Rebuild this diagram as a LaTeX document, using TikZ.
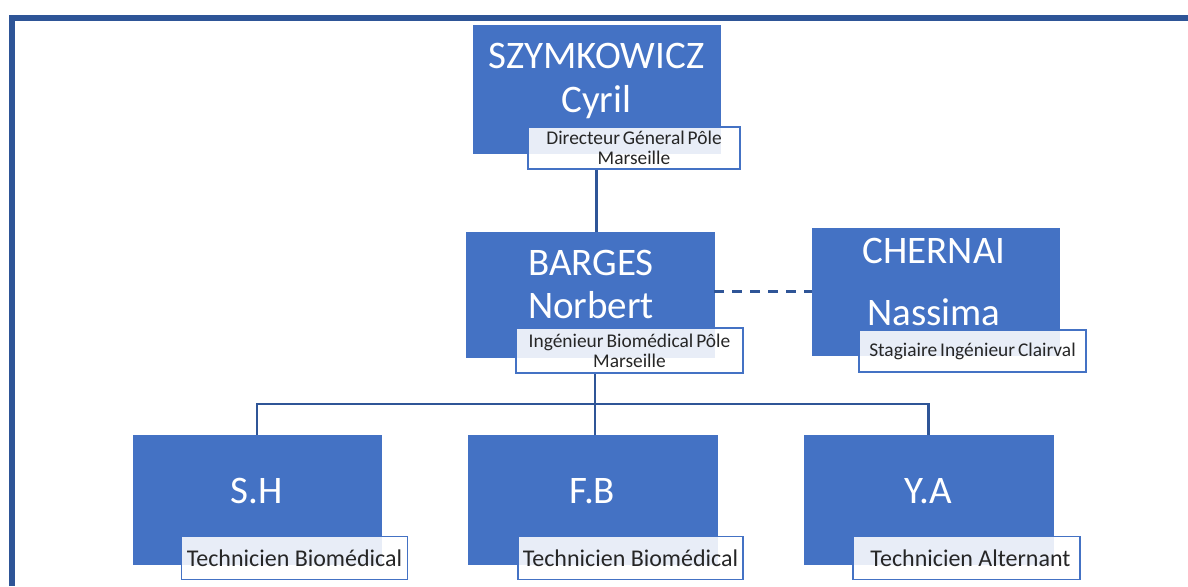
\documentclass[tikz,border=0pt]{standalone}
\usepackage{fontspec}
\setmainfont{Carlito}
\definecolor{boxblue}{HTML}{4472C4}
\definecolor{linedark}{HTML}{2F5597}
\definecolor{framecol}{HTML}{2E5597}
\definecolor{labeltext}{HTML}{262626}
\newcommand\mytightspaces{\spaceskip=0.15em plus 0.05em\relax}
\tikzset{
  namebox/.style={draw=boxblue, line width=0.8pt, fill=boxblue, inner sep=0pt, minimum width=247pt, minimum height=127pt},
  nametext/.style={text=white, font=\fontsize{39}{43}\selectfont, anchor=base, inner sep=0pt},
  rolebox/.style={draw=boxblue, line width=1.5pt, fill=white, fill opacity=0.88, text opacity=1, text=labeltext, inner sep=0pt, minimum width=226pt, minimum height=43pt, align=center},
  rolesmall/.style={font=\fontsize{19.4}{20}\selectfont},
  rolebig/.style={font=\fontsize{24}{26}\selectfont},
  conn/.style={draw=linedark, line width=2.2pt},
  dashconn/.style={draw=linedark, line width=2.2pt, dash pattern=on 10pt off 8pt},
}
\begin{document}
\begin{tikzpicture}[x=1pt,y=-1pt]
\useasboundingbox (0,0) rectangle (1188,586);
% frame
\draw[framecol, line width=6pt] (12,586) -- (12,18.5) -- (1188,18.5);
% boxes
\node[namebox, minimum width=247pt, minimum height=128pt] (szy) at (596.5,89) {};
\node[namebox, minimum width=248pt, minimum height=125pt] (bar) at (590,294.5) {};
\node[namebox, minimum width=247pt, minimum height=127pt] (che) at (935.5,291.5) {};
\node[namebox, minimum width=248pt, minimum height=129pt] (sh) at (257,499.5) {};
\node[namebox, minimum width=249pt, minimum height=129pt] (fb) at (592.5,499.5) {};
\node[namebox, minimum width=249pt, minimum height=129pt] (ya) at (928.5,499.5) {};
% names
\node[nametext] (szyA) at (596.5,69) {SZYMKOWICZ};
\node[nametext] (szyB) at (596.5,112) {Cyril};
\node[nametext] (barA) at (591,275) {BARGES};
\node[nametext] (barB) at (591,318) {Norbert};
\node[nametext] (cheA) at (934,263) {CHERNAI};
\node[nametext] (cheB) at (934,325) {Nassima};
\node[nametext] (shA) at (257,503) {S.H};
\node[nametext] (fbA) at (592.5,503) {F.B};
\node[nametext] (yaA) at (928.5,503) {Y.A};
% role labels
\node[rolebox, rolesmall, minimum width=212pt, minimum height=42pt] (szyL) at (634,148) {\mytightspaces Directeur Géneral Pôle\\Marseille};
\node[rolebox, rolesmall, minimum width=227pt, minimum height=45pt] (barL) at (629.5,350.5) {\mytightspaces Ingénieur Biomédical Pôle\\Marseille};
\node[rolebox, rolesmall, minimum width=227pt, minimum height=42pt] (cheL) at (972.5,351) {\mytightspaces Stagiaire Ingénieur Clairval};
\node[rolebox, rolebig] (shL) at (294.5,558) {Technicien Biomédical};
\node[rolebox, rolebig, minimum width=225pt] (fbL) at (630.5,558) {Technicien Biomédical};
\node[rolebox, rolebig, minimum width=227pt] (yaL) at (966.5,558) {\hspace{8pt}Technicien Alternant};
% connectors
\coordinate (hub) at (595,404);
\draw[conn] (szy.center |- szyL.south) -- (szy.center |- bar.north);
\draw[conn] (hub |- barL.south) -- (hub);
\draw[conn] (sh.north) |- (hub) -| (ya.north);
\draw[conn] (hub) -- (hub |- fb.north);
\draw[dashconn] (bar.east |- che.west) -- (che.west);
\end{tikzpicture}
\end{document}
